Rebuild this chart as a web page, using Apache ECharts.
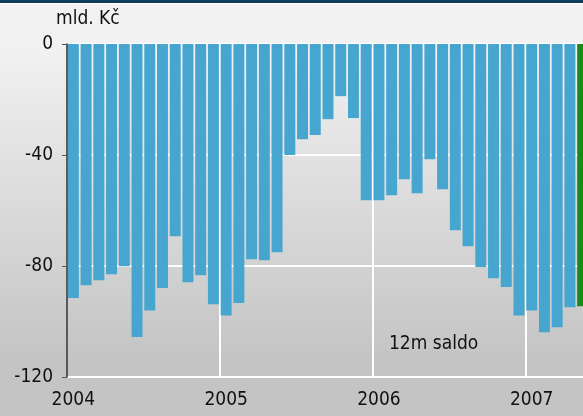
<!DOCTYPE html>
<html>
<head>
<meta charset="utf-8">
<script src="https://cdn.jsdelivr.net/npm/echarts@6/dist/echarts.min.js"></script>
<style>
    html, body { margin: 0; padding: 0; }
    #chart {
        width: 583px;
        height: 416px;
        background: linear-gradient(to bottom, #0f3b5c 0px, #0f3b5c 3px, #ffffff 3px, #ffffff 4px,
            #f2f2f2 4px, #f2f2f2 44px, #c4c4c4 360px, #c4c4c4 100%);
    }
</style>
</head>
<body>
<div id="chart"></div>
<script>
// monthly, Jan 2004 .. May 2007
const months = [
    "2004-01", "2004-02", "2004-03", "2004-04", "2004-05", "2004-06",
    "2004-07", "2004-08", "2004-09", "2004-10", "2004-11", "2004-12",
    "2005-01", "2005-02", "2005-03", "2005-04", "2005-05", "2005-06",
    "2005-07", "2005-08", "2005-09", "2005-10", "2005-11", "2005-12",
    "2006-01", "2006-02", "2006-03", "2006-04", "2006-05", "2006-06",
    "2006-07", "2006-08", "2006-09", "2006-10", "2006-11", "2006-12",
    "2007-01", "2007-02", "2007-03", "2007-04", "2007-05"
];
const saldo12m = [
    -91.5, -86.9, -85.1, -83.0, -80.1, -105.6, -96.0, -87.9, -69.3, -85.9, -83.3, -93.8,
    -97.8, -93.3, -77.6, -77.9, -75.0, -40.0, -34.3, -32.8, -27.1, -18.8, -26.7, -56.3,
    -56.3, -54.5, -48.7, -53.8, -41.5, -52.3, -67.1, -72.9, -80.4, -84.4, -87.6, -97.8,
    -96.0, -103.9, -102.1, -94.9, -94.5
];
const yTicks = [-120, -80, -40, 0];
const unitLabel = "mld. Kč";
const seriesLabel = "12m saldo";

const FONT = "'DejaVu Sans Condensed', 'DejaVu Sans', sans-serif";
const BLUE = "#46a6cf";
const GREEN = "#178c17";

let chart = echarts.init(document.getElementById("chart"), null, { renderer: "canvas" });
let option = {
    animation: false,
    backgroundColor: "transparent",
    textStyle: { fontFamily: FONT },
    title: {
        text: unitLabel,
        left: 56,
        top: 10,
        padding: 0,
        textStyle: { fontFamily: FONT, fontSize: 19, fontWeight: "normal", color: "#111" }
    },
    graphic: [
        {
            type: "text",
            left: 389,
            top: 335,
            style: { text: seriesLabel, font: "19px " + FONT, fill: "#111" }
        }
    ],
    // plot runs past the right edge, last bar is cut off
    grid: {
        left: 67,
        top: 44,
        bottom: 39,
        width: 522,
        outerBoundsMode: "none"
    },
    xAxis: {
        type: "category",
        data: months,
        position: "bottom",
        axisLine: { show: false },
        axisTick: { show: false },
        axisLabel: {
            interval: 11,
            margin: 14,
            fontSize: 19,
            color: "#111",
            formatter: (v) => v.slice(0, 4)
        },
        splitLine: {
            show: true,
            interval: 11,
            lineStyle: { color: "#ffffff", width: 2 }
        }
    },
    yAxis: {
        type: "value",
        min: yTicks[0],
        max: yTicks[yTicks.length - 1],
        interval: 40,
        axisLine: { show: true, lineStyle: { color: "#222", width: 1.5 } },
        axisTick: { show: true, length: 5, lineStyle: { color: "#555" } },
        axisLabel: { margin: 14, fontSize: 19, color: "#111" },
        splitLine: { lineStyle: { color: "#ffffff", width: 2 } }
    },
    series: [
        {
            name: seriesLabel,
            type: "bar",
            barCategoryGap: "14%",
            data: saldo12m,
            itemStyle: {
                color: (p) => (p.dataIndex === saldo12m.length - 1 ? GREEN : BLUE)
            }
        }
    ]
};
chart.setOption(option);
</script>
</body>
</html>
